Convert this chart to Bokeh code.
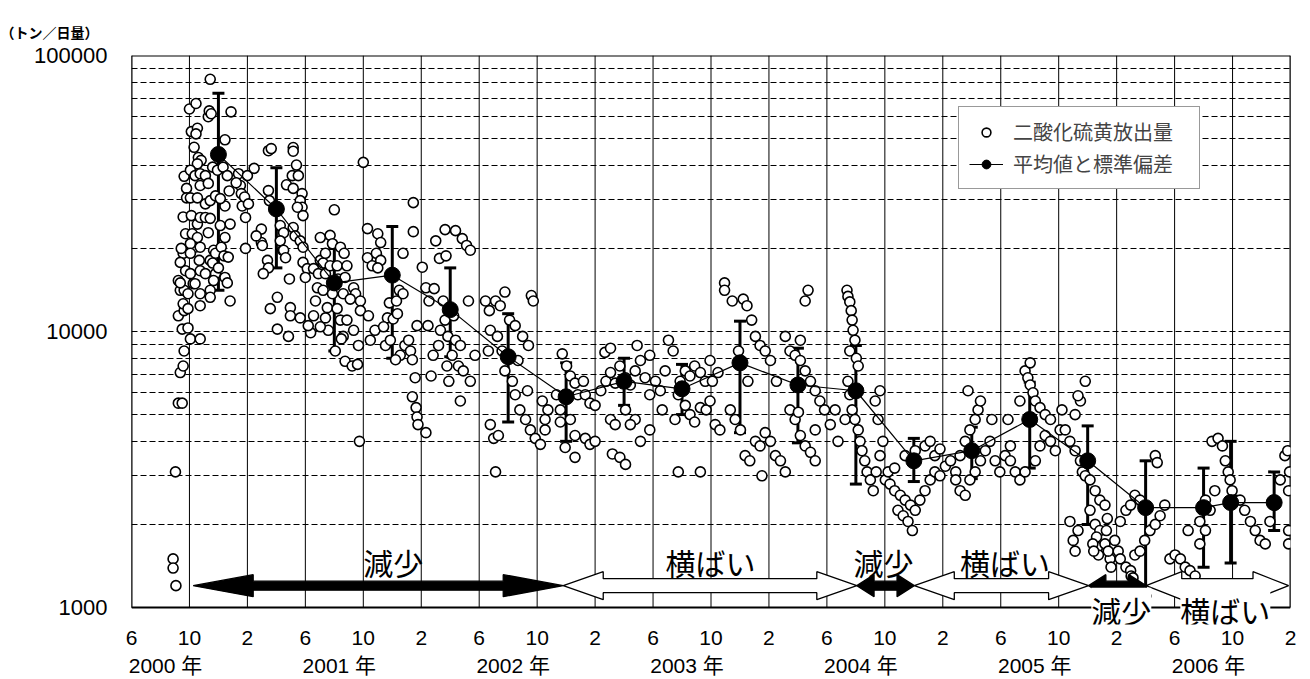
import math
import pandas as pd
from bokeh.plotting import figure
from bokeh.models import (ColumnDataSource, FixedTicker, Whisker, TeeHead, Label, LinearAxis,
                          Legend, LegendItem, NumeralTickFormatter, Range1d, Title)
from bokeh.embed import file_html
from bokeh.resources import INLINE

# ---------------- data ----------------
tick_months = ["2000-06-01", "2000-10-01", "2001-02-01", "2001-06-01", "2001-10-01", "2002-02-01",
               "2002-06-01", "2002-10-01", "2003-02-01", "2003-06-01", "2003-10-01", "2004-02-01",
               "2004-06-01", "2004-10-01", "2005-02-01", "2005-06-01", "2005-10-01", "2006-02-01",
               "2006-06-01", "2006-10-01", "2007-02-01"]
year_label_months = ["2000-06-01", "2001-06-01", "2002-06-01", "2003-06-01", "2004-06-01",
                     "2005-06-01", "2006-06-01"]
year_labels = ["2000 年", "2001 年", "2002 年", "2003 年", "2004 年", "2005 年", "2006 年"]
y_ticks = [1000, 10000, 100000]

so2_2000 = [
    ("2000-08-28", 1500), ("2000-08-28", 1390), ("2000-09-03", 1200), ("2000-09-02", 3100),
    ("2000-09-08", 5500), ("2000-09-16", 5500), ("2000-09-12", 7100), ("2000-09-18", 7500),
    ("2000-09-20", 8500), ("2000-09-16", 10200), ("2000-09-28", 10300), ("2000-09-08", 11400),
    ("2000-09-20", 11900), ("2000-09-18", 12600), ("2000-09-12", 14100), ("2000-09-08", 15300),
    ("2000-09-20", 14100), ("2000-09-23", 16600), ("2000-09-12", 15000), ("2000-09-18", 19200),
    ("2000-09-23", 22600), ("2000-09-20", 36500), ("2000-09-25", 33000), ("2000-09-25", 30500),
    ("2000-09-18", 26000), ("2000-09-14", 20000), ("2000-09-12", 17800),
    ("2000-10-01", 64000), ("2000-10-05", 53000), ("2000-10-11", 46500), ("2000-10-15", 67000),
    ("2000-10-18", 54500), ("2000-10-15", 52000), ("2000-10-20", 42700), ("2000-10-26", 41700),
    ("2000-10-18", 40500), ("2000-10-03", 38400), ("2000-10-13", 36700), ("2000-10-24", 37300),
    ("2000-10-03", 30500), ("2000-10-18", 30500), ("2000-10-24", 33800), ("2000-10-05", 26300),
    ("2000-10-18", 24500), ("2000-10-24", 25900), ("2000-10-07", 22600), ("2000-10-18", 21900),
    ("2000-10-13", 20200), ("2000-10-03", 20800), ("2000-10-24", 20200), ("2000-10-03", 19200),
    ("2000-10-22", 18100), ("2000-10-03", 16200), ("2000-10-24", 16600), ("2000-10-09", 14900),
    ("2000-10-13", 14900), ("2000-10-24", 13700), ("2000-09-28", 13700), ("2000-10-24", 12400),
    ("2000-10-03", 9400), ("2000-10-24", 9400), ("2000-09-28", 12100),
    ("2000-11-10", 60000), ("2000-11-12", 63000), ("2000-11-16", 61500), ("2000-11-14", 82000),
    ("2000-11-04", 36700), ("2000-11-19", 39400), ("2000-11-04", 29000), ("2000-11-14", 29800),
    ("2000-11-04", 25900), ("2000-11-14", 25700), ("2000-11-10", 22800), ("2000-11-14", 18100),
    ("2000-11-21", 19700), ("2000-11-25", 19200), ("2000-11-19", 17700), ("2000-11-04", 16200),
    ("2000-11-25", 16200), ("2000-11-14", 14100), ("2000-11-14", 13300), ("2000-11-21", 15300),
    ("2000-11-10", 34400), ("2000-11-25", 31000),
    ("2000-11-29", 38400), ("2000-12-11", 39400), ("2000-12-15", 49500), ("2000-12-20", 36700),
    ("2000-12-15", 28500), ("2000-12-05", 30300), ("2000-12-05", 24200), ("2000-12-15", 21900),
    ("2000-12-07", 20200), ("2000-12-13", 18800), ("2000-12-01", 17000), ("2000-12-15", 15700),
    ("2000-12-20", 15000), ("2000-12-26", 12900), ("2000-12-26", 24500), ("2000-12-22", 18600),
    ("2000-12-28", 62500), ("2000-12-24", 32300),
]
so2_2001 = [
    ("2001-01-13", 37300), ("2001-01-17", 33800), ("2001-01-19", 31600), ("2001-01-21", 28500),
    ("2001-01-26", 30700), ("2001-01-08", 34600),
    ("2001-02-01", 36700), ("2001-02-14", 39000), ("2001-02-03", 29000), ("2001-01-28", 25900),
    ("2001-01-28", 20000), ("2001-02-28", 23500), ("2001-02-28", 21000), ("2001-02-18", 22200),
    ("2001-03-15", 45200), ("2001-03-21", 46000), ("2001-03-15", 32400), ("2001-03-17", 29800),
    ("2001-03-13", 18100), ("2001-03-15", 17000), ("2001-03-04", 16200), ("2001-03-19", 12100),
    ("2001-03-02", 20500),
    ("2001-04-03", 13300), ("2001-04-09", 24200), ("2001-04-16", 22800), ("2001-04-09", 21300),
    ("2001-04-14", 19700), ("2001-04-16", 19700), ("2001-04-20", 18500), ("2001-04-03", 10200),
    ("2001-04-22", 34000), ("2001-04-28", 15500), ("2001-04-30", 12200), ("2001-04-30", 11400),
    ("2001-04-26", 9600),
    ("2001-05-06", 46400), ("2001-05-06", 45000), ("2001-05-13", 40100), ("2001-05-04", 36700),
    ("2001-05-06", 33000), ("2001-05-06", 23800), ("2001-05-10", 22200), ("2001-05-21", 21300),
    ("2001-05-27", 20200), ("2001-05-25", 31600), ("2001-05-21", 29800), ("2001-05-25", 28200),
    ("2001-05-27", 26300), ("2001-05-15", 28200), ("2001-05-27", 17800), ("2001-05-21", 11200),
    ("2001-05-17", 36700),
    ("2001-06-05", 16900), ("2001-06-01", 15700), ("2001-06-18", 16900), ("2001-06-28", 16200),
    ("2001-06-22", 12900), ("2001-06-18", 11400), ("2001-06-26", 14400), ("2001-06-12", 9900),
    ("2001-06-07", 10500),
    ("2001-07-02", 21900), ("2001-07-02", 18100), ("2001-07-08", 17700), ("2001-07-13", 19200),
    ("2001-07-23", 22300), ("2001-07-28", 20800), ("2001-07-13", 16200), ("2001-07-08", 14100),
    ("2001-07-17", 12200), ("2001-07-13", 11200), ("2001-07-19", 10100), ("2001-07-28", 13700),
    ("2001-07-23", 17300), ("2001-07-02", 10400),
    ("2001-08-01", 27600), ("2001-08-14", 20200), ("2001-08-22", 19200), ("2001-08-07", 17300),
    ("2001-08-28", 17300), ("2001-08-09", 15500), ("2001-08-24", 15700), ("2001-08-20", 13700),
    ("2001-08-07", 12100), ("2001-08-14", 11000), ("2001-08-28", 11000), ("2001-08-20", 9600),
    ("2001-08-03", 8500), ("2001-08-16", 9400), ("2001-08-24", 7800),
    ("2001-09-11", 14400), ("2001-09-15", 13700), ("2001-09-25", 12900), ("2001-09-04", 13100),
    ("2001-09-25", 11900), ("2001-09-11", 10100), ("2001-09-21", 8900), ("2001-09-08", 7500),
    ("2001-09-19", 7600), ("2001-09-23", 4000),
    ("2001-10-01", 41000), ("2001-10-10", 23600), ("2001-10-10", 18500), ("2001-10-29", 19200),
    ("2001-11-01", 22600), ("2001-10-20", 17300), ("2001-10-26", 10100), ("2001-10-16", 9300),
    ("2001-10-12", 11400),
    ("2001-11-07", 21000), ("2001-11-07", 18100), ("2001-11-01", 17000), ("2001-11-21", 11200),
    ("2001-11-13", 10400), ("2001-11-25", 12700), ("2001-11-17", 8900), ("2001-11-27", 9300),
    ("2001-12-03", 11100), ("2001-12-10", 12900), ("2001-12-16", 14100), ("2001-12-24", 13700),
    ("2001-12-24", 19200), ("2001-12-12", 11600), ("2001-12-18", 8200), ("2001-12-28", 8900),
    ("2001-12-08", 7900),
]
so2_2002 = [
    ("2002-01-15", 29300), ("2002-01-15", 23000), ("2002-01-23", 10500), ("2002-01-09", 8500),
    ("2002-01-13", 7900), ("2002-01-19", 6800), ("2002-01-13", 5800), ("2002-01-21", 5300),
    ("2002-01-23", 4900), ("2002-01-25", 4600), ("2002-01-05", 9300),
    ("2002-02-03", 17100), ("2002-02-10", 14400), ("2002-02-26", 14300), ("2002-02-14", 10500),
    ("2002-03-01", 21300), ("2002-02-10", 4300), ("2002-02-16", 12900), ("2002-02-24", 8200),
    ("2002-02-20", 6900),
    ("2002-03-09", 18400), ("2002-03-23", 18800), ("2002-03-21", 23400), ("2002-03-11", 10100),
    ("2002-03-21", 11000), ("2002-03-27", 9600), ("2002-03-17", 12900), ("2002-03-25", 7500),
    ("2002-03-07", 8900),
    ("2002-04-12", 9300), ("2002-04-22", 8900), ("2002-04-05", 8200), ("2002-04-18", 7500),
    ("2002-04-28", 7200), ("2002-03-29", 6600), ("2002-04-12", 23200), ("2002-04-26", 21700),
    ("2002-04-08", 11400), ("2002-04-22", 5600),
    ("2002-05-05", 20500), ("2002-05-13", 19700), ("2002-05-09", 12900), ("2002-05-23", 8200),
    ("2002-05-13", 6600),
    ("2002-06-22", 11900), ("2002-06-14", 12900), ("2002-06-24", 10100), ("2002-06-24", 4600),
    ("2002-07-01", 4100), ("2002-06-20", 8500),
    ("2002-07-05", 12900), ("2002-07-15", 12400), ("2002-07-25", 13900), ("2002-07-09", 9600),
    ("2002-07-05", 3100), ("2002-07-11", 4200), ("2002-07-19", 8500), ("2002-07-25", 7200),
    ("2002-08-04", 11000), ("2002-08-16", 10500), ("2002-08-16", 5900), ("2002-08-26", 5200),
    ("2002-08-10", 6600), ("2002-08-22", 7850),
    ("2002-09-01", 9600), ("2002-09-13", 8900), ("2002-09-19", 13500), ("2002-09-23", 12900),
    ("2002-09-07", 4800), ("2002-09-17", 4400), ("2002-09-27", 4100), ("2002-09-11", 6100),
    ("2002-10-08", 3900), ("2002-10-18", 4400), ("2002-10-18", 4800), ("2002-10-12", 5600),
    ("2002-10-24", 5200),
    ("2002-11-23", 8300), ("2002-11-19", 5200), ("2002-11-19", 4700), ("2002-11-29", 3800),
    ("2002-11-11", 5900),
    ("2002-12-02", 7500), ("2002-12-10", 6900), ("2002-12-20", 6500), ("2002-12-26", 5900),
    ("2002-12-10", 4800), ("2002-12-20", 4200), ("2002-12-20", 3500),
]
so2_2003 = [
    ("2003-01-11", 5900), ("2003-01-21", 5500), ("2003-01-11", 4100), ("2003-01-21", 3900),
    ("2003-01-07", 6600),
    ("2003-02-01", 5400), ("2003-02-01", 4000), ("2003-02-12", 6100), ("2003-02-22", 6600),
    ("2003-02-20", 8400),
    ("2003-03-03", 7100), ("2003-03-13", 6500), ("2003-03-23", 7500), ("2003-03-03", 4800),
    ("2003-03-13", 4600), ("2003-03-07", 3600), ("2003-03-23", 3500), ("2003-03-03", 8700),
    ("2003-04-04", 6800), ("2003-04-14", 6400), ("2003-04-24", 7200), ("2003-04-04", 5200),
    ("2003-04-24", 4800), ("2003-04-04", 3300), ("2003-04-14", 4600), ("2003-04-28", 8900),
    ("2003-05-05", 7850), ("2003-05-15", 6800), ("2003-05-25", 5900), ("2003-05-05", 4000),
    ("2003-05-25", 4400), ("2003-05-25", 8200),
    ("2003-06-06", 6600), ("2003-06-16", 6100), ("2003-06-20", 5200), ("2003-06-26", 7200),
    ("2003-07-03", 9300), ("2003-07-13", 8500), ("2003-07-28", 6600), ("2003-07-24", 5900),
    ("2003-07-24", 3100), ("2003-07-17", 4800),
    ("2003-08-08", 7200), ("2003-08-18", 6900), ("2003-08-28", 7500), ("2003-08-08", 5400),
    ("2003-08-18", 5000), ("2003-08-28", 4700),
    ("2003-09-09", 7100), ("2003-09-19", 6600), ("2003-09-29", 7850), ("2003-09-09", 5300),
    ("2003-09-21", 5200), ("2003-09-09", 3100),
    ("2003-10-04", 6600), ("2003-10-16", 7100), ("2003-09-29", 5600), ("2003-10-10", 4600),
    ("2003-10-20", 4400), ("2003-10-30", 15000), ("2003-10-30", 14100),
    ("2003-11-11", 5200), ("2003-11-21", 4800), ("2003-11-15", 12900), ("2003-11-28", 8500),
    ("2003-12-08", 13100), ("2003-12-16", 12400), ("2003-12-26", 11000), ("2003-12-02", 4400),
    ("2003-12-12", 3550), ("2003-12-22", 3400), ("2003-12-18", 6600),
]
so2_2004 = [
    ("2004-01-03", 9600), ("2004-01-13", 8900), ("2004-01-24", 8500), ("2004-01-03", 4000),
    ("2004-01-13", 3850), ("2004-01-24", 4300), ("2004-01-17", 3000),
    ("2004-02-04", 7850), ("2004-02-04", 4000), ("2004-02-14", 3550), ("2004-02-24", 3400),
    ("2004-02-16", 6600),
    ("2004-03-05", 3100), ("2004-03-05", 9600), ("2004-03-15", 8500), ("2004-03-26", 8200),
    ("2004-03-15", 5200), ("2004-03-26", 4800),
    ("2004-04-06", 9300), ("2004-04-16", 12900), ("2004-04-22", 14100), ("2004-04-06", 7850),
    ("2004-04-16", 7200), ("2004-04-27", 6600), ("2004-04-06", 4200), ("2004-04-16", 3850),
    ("2004-04-27", 3650), ("2004-04-02", 5100),
    ("2004-05-07", 6100), ("2004-05-17", 5600), ("2004-05-27", 5200), ("2004-05-07", 3400),
    ("2004-05-07", 4400),
    ("2004-06-08", 4600), ("2004-06-18", 5200), ("2004-06-24", 4000),
    ("2004-07-13", 14100), ("2004-07-15", 13400), ("2004-07-19", 12800), ("2004-07-22", 11900),
    ("2004-07-24", 11000), ("2004-07-26", 10100), ("2004-07-19", 8500), ("2004-07-15", 6600),
    ("2004-07-19", 5900), ("2004-07-24", 5200), ("2004-07-09", 4800),
    ("2004-07-30", 9300), ("2004-08-02", 8000), ("2004-08-06", 7500), ("2004-07-30", 4800),
    ("2004-08-06", 4400), ("2004-08-10", 4000), ("2004-08-14", 3700), ("2004-08-20", 3400),
    ("2004-08-25", 3100),
    ("2004-09-01", 2900), ("2004-09-07", 2650), ("2004-09-13", 3100), ("2004-09-21", 3550),
    ("2004-09-27", 4000), ("2004-09-17", 4800), ("2004-09-11", 5600), ("2004-09-21", 6100),
    ("2004-10-02", 2900), ("2004-10-12", 2800), ("2004-10-22", 2650), ("2004-10-08", 3100),
    ("2004-10-22", 3200), ("2004-10-29", 2250),
    ("2004-11-03", 2550), ("2004-11-13", 2450), ("2004-11-24", 2350), ("2004-11-13", 3550),
    ("2004-11-09", 2150), ("2004-11-19", 2050), ("2004-11-28", 1900),
    ("2004-12-04", 2250), ("2004-12-14", 2450), ("2004-12-25", 2650), ("2004-12-04", 3700),
    ("2004-12-25", 3850),
]
so2_2005 = [
    ("2005-01-05", 2900), ("2005-01-15", 3100), ("2005-01-26", 3000), ("2005-01-05", 4000),
    ("2005-01-15", 3550), ("2005-01-26", 3750),
    ("2005-02-06", 3250), ("2005-02-16", 3400), ("2005-02-26", 3100), ("2005-02-26", 2900),
    ("2005-03-07", 3550), ("2005-03-18", 4000), ("2005-03-24", 6100), ("2005-03-07", 2650),
    ("2005-03-18", 2550), ("2005-03-28", 2900), ("2005-03-28", 4400),
    ("2005-04-08", 4800), ("2005-04-14", 5200), ("2005-04-19", 5600), ("2005-04-08", 3100),
    ("2005-04-19", 3400), ("2005-04-29", 3700),
    ("2005-05-09", 4000), ("2005-05-20", 3400), ("2005-05-30", 3100), ("2005-05-13", 4800),
    ("2005-06-10", 3550), ("2005-06-21", 3850), ("2005-06-21", 3400), ("2005-06-16", 4800),
    ("2005-07-01", 3100), ("2005-07-11", 2900), ("2005-07-22", 3100), ("2005-07-22", 7200),
    ("2005-07-28", 6800), ("2005-07-11", 5600),
    ("2005-08-02", 7700), ("2005-08-02", 6400), ("2005-08-08", 6000), ("2005-08-13", 5600),
    ("2005-08-23", 5300), ("2005-08-13", 3400), ("2005-08-23", 3850),
    ("2005-09-03", 5000), ("2005-09-14", 4800), ("2005-09-03", 4200), ("2005-09-14", 4000),
    ("2005-09-24", 3700),
    ("2005-10-04", 4400), ("2005-10-08", 5200), ("2005-10-15", 4400), ("2005-10-25", 4000),
    ("2005-10-25", 2050),
    ("2005-11-05", 3700), ("2005-11-16", 3400), ("2005-11-20", 3100), ("2005-11-26", 3000),
    ("2005-11-05", 5000), ("2005-11-16", 5600), ("2005-11-26", 6600), ("2005-11-11", 5850),
    ("2005-11-01", 1750), ("2005-11-05", 1600), ("2005-11-11", 1900),
    ("2005-12-06", 2900), ("2005-12-17", 2650), ("2005-12-27", 2450), ("2005-12-06", 2250),
    ("2005-12-17", 2000), ("2005-12-27", 1900), ("2005-12-20", 1800), ("2005-12-22", 1650),
    ("2005-12-24", 1550), ("2005-12-12", 1700), ("2005-12-14", 1600),
]
so2_2006 = [
    ("2006-01-07", 2350), ("2006-01-07", 1700), ("2006-01-18", 1500), ("2006-01-28", 1750),
    ("2006-01-10", 1900), ("2006-01-12", 2100), ("2006-01-14", 1600), ("2006-01-20", 1400),
    ("2006-02-04", 1600), ("2006-02-08", 1500), ("2006-02-19", 1400), ("2006-02-08", 2050),
    ("2006-02-19", 2250),
    ("2006-02-28", 1360), ("2006-03-09", 1550), ("2006-03-20", 1600), ("2006-02-28", 2350),
    ("2006-03-09", 2550), ("2006-03-20", 2450), ("2006-03-01", 1300), ("2006-03-05", 1280),
    ("2006-03-30", 1750), ("2006-04-10", 1900), ("2006-04-21", 2000), ("2006-04-21", 3550),
    ("2006-04-25", 3350),
    ("2006-05-01", 2150), ("2006-05-11", 2350), ("2006-05-22", 1500),
    ("2006-06-02", 1550), ("2006-06-13", 1500), ("2006-06-23", 1400), ("2006-06-29", 1900),
    ("2006-07-03", 1360), ("2006-07-14", 1300), ("2006-07-24", 1700), ("2006-07-24", 2050),
    ("2006-08-05", 1900), ("2006-08-15", 2250), ("2006-08-25", 2650), ("2006-08-19", 4000),
    ("2006-08-05", 2450),
    ("2006-09-01", 4100), ("2006-09-10", 3850), ("2006-09-16", 3400), ("2006-09-22", 3100),
    ("2006-09-26", 2900),
    ("2006-09-30", 2650), ("2006-10-07", 2450), ("2006-10-17", 2450), ("2006-10-27", 2250),
    ("2006-11-08", 2050), ("2006-11-18", 1900), ("2006-11-28", 1750),
    ("2006-12-09", 1700), ("2006-12-19", 2050), ("2006-12-29", 2350),
    ("2007-01-10", 2900), ("2007-01-20", 3550), ("2007-01-26", 3700), ("2007-01-30", 3100),
    ("2007-01-28", 2650), ("2007-01-28", 1900), ("2007-01-28", 1700),
]

mean_dates = ["2000-12-01", "2001-04-01", "2001-08-01", "2001-12-01", "2002-04-01", "2002-08-01",
              "2002-12-01", "2003-04-01", "2003-08-01", "2003-12-01", "2004-04-01", "2004-08-01",
              "2004-12-01", "2005-04-01", "2005-08-01", "2005-12-01", "2006-04-01", "2006-08-01",
              "2006-09-27", "2006-12-28"]
mean_tons = [43800, 27800, 15000, 16000, 12000, 8100, 5800, 6600, 6200, 7700, 6400, 6100,
             3400, 3700, 4800, 3400, 2300, 2300, 2400, 2400]
sd_upper = [73000, 39200, 20000, 24000, 17000, 11600, 7700, 8000, 7600, 10900, 8700, 8900,
            4100, 4500, 6550, 4550, 3400, 3200, 4000, 3100]
sd_lower = [14100, 17000, 8500, 8000, 8100, 4700, 4000, 5400, 5000, 4300, 3950, 2800,
            2860, 2930, 3200, 2000, 1100, 1400, 1450, 1900]

trend_start = ["2000-10-09", "2002-11-25", "2004-08-03", "2004-12-02", "2005-12-03", "2006-04-02"]
trend_end = ["2002-11-25", "2004-08-03", "2004-12-02", "2005-12-03", "2006-04-02", "2007-01-28"]
trend_label = ["減少", "横ばい", "減少", "横ばい", "減少", "横ばい"]
trend_kind = ["down", "flat", "down", "flat", "down", "flat"]
trend_level = 1200

# ---------------- layout / style ----------------
FRAME_W, PLOT_H = 1159, 552       # PLOT_H: pixel height of 1000..100000
PAD_BELOW = 17                    # extra frame room below 1000 for the lower trend labels
LEFT, TOP = 131, 55
X0, X1 = 5, 85                    # months since Jan 2000 (Jun 2000 .. Feb 2007)
Y_BASE, Y1 = 1000, 100000
px_y = PLOT_H / (math.log10(Y1) - math.log10(Y_BASE))
Y0 = Y_BASE * 10 ** (-PAD_BELOW / px_y)
px_x = FRAME_W / (X1 - X0)
CJK = "Noto Sans CJK JP"
NUM = "'Liberation Sans', 'Noto Sans CJK JP'"


def mi(s):
    d = pd.Timestamp(s)
    return (d.year - 2000) * 12 + (d.month - 1) + (d.day - 1) / d.days_in_month


p = figure(frame_width=FRAME_W, frame_height=PLOT_H + PAD_BELOW, output_backend="svg",
           toolbar_location=None, y_axis_type="log", x_range=Range1d(X0, X1),
           y_range=Range1d(Y0, Y1), min_border_left=LEFT, min_border_top=TOP,
           min_border_right=1310 - LEFT - FRAME_W, min_border_bottom=0)
p.background_fill_color = "white"
p.border_fill_color = "white"
p.outline_line_color = None
p.title = Title(text="（トン／日量）", align="left", vertical_align="bottom", offset=-131,
                standoff=28, text_font=CJK, text_font_size="14px", text_font_style="bold",
                text_color="black")

xt = [mi(s) for s in tick_months]
p.xaxis.ticker = FixedTicker(ticks=xt)
p.xaxis.major_label_overrides = {t: str(pd.Timestamp(s).month) for t, s in zip(xt, tick_months)}
p.xaxis.axis_line_color = None
p.xaxis.major_tick_line_color = None
p.xaxis.minor_tick_line_color = None
p.xaxis.major_label_standoff = 0
p.xaxis.major_label_text_font = NUM
p.xaxis.major_label_text_font_size = "21px"
p.xaxis.major_label_text_color = "black"

yx = [mi(m) + 34 / px_x for m in year_label_months]
year_axis = LinearAxis(ticker=FixedTicker(ticks=yx),
                       major_label_overrides={t: s for t, s in zip(yx, year_labels)},
                       axis_line_color=None, major_tick_line_color=None,
                       minor_tick_line_color=None, major_label_standoff=0,
                       major_label_text_font=NUM, major_label_text_font_size="21px",
                       major_label_text_color="black")
p.add_layout(year_axis, "below")

minor = [m * d for d in (1000, 10000) for m in range(2, 10)]
p.yaxis.ticker = FixedTicker(ticks=y_ticks, minor_ticks=minor)
p.yaxis.formatter = NumeralTickFormatter(format="0")
p.yaxis.axis_line_color = None
p.yaxis.major_tick_line_color = None
p.yaxis.minor_tick_line_color = None
p.yaxis.major_label_standoff = 18
p.yaxis.major_label_text_font = NUM
p.yaxis.major_label_text_font_size = "22px"
p.yaxis.major_label_text_color = "black"

p.xgrid.grid_line_color = None
p.ygrid.grid_line_color = "black"
p.ygrid.grid_line_dash = "6 3"
p.ygrid.grid_line_width = 1
p.ygrid.minor_grid_line_color = "black"
p.ygrid.minor_grid_line_dash = "6 3"
p.ygrid.minor_grid_line_width = 1

# vertical grid lines and plot box (from 1000 up to 100000)
p.segment(x0=xt, y0=[Y_BASE] * len(xt), x1=xt, y1=[Y1] * len(xt),
          line_color="black", line_width=1)
p.segment(x0=[X0, X0, X0, X1], y0=[Y_BASE, Y1, Y_BASE, Y_BASE],
          x1=[X1, X1, X0, X1], y1=[Y_BASE, Y1, Y1, Y1], line_color="black", line_width=2)

# ---------------- scatter ----------------
obs = so2_2000 + so2_2001 + so2_2002 + so2_2003 + so2_2004 + so2_2005 + so2_2006
src = ColumnDataSource(dict(x=[mi(d) for d, _ in obs], y=[v for _, v in obs]))
r_obs = p.scatter("x", "y", source=src, marker="circle", size=10, fill_color="white",
                  line_color="black", line_width=1.6)

# ---------------- trend arrows ----------------
xs, ys, fills = [], [], []
for s, e, k in zip(trend_start, trend_end, trend_kind):
    t0, t1 = mi(s), mi(e)
    L = (t1 - t0) * px_x
    if k == "down":
        sh, hh, hl = 4.5, 11, min(60, L * 0.3)
        fc = "black"
    else:
        sh, hh, hl = 7, 14, min(40, L * 0.25)
        fc = "white"
    pts = [(0, 0), (hl, hh), (hl, sh), (L - hl, sh), (L - hl, hh), (L, 0),
           (L - hl, -hh), (L - hl, -sh), (hl, -sh), (hl, -hh)]
    xs.append([t0 + a / px_x for a, _ in pts])
    ys.append([trend_level * 10 ** (b / px_y) for _, b in pts])
    fills.append(fc)
p.patches(xs, ys, fill_color=fills, line_color="black", line_width=1.3)

label_pos = ["2001-12-03", "2003-09-30", "2004-09-28", "2005-06-10", "2006-02-10", "2006-09-16"]
label_above = [True, True, True, True, False, False]
for txt, pos, above in zip(trend_label, label_pos, label_above):
    p.add_layout(Label(x=mi(pos), y=trend_level, y_offset=(24 if above else -24),
                       text=txt, text_align="center", text_baseline="middle",
                       text_font=CJK, text_font_size="30px", text_color="black",
                       background_fill_color=None if above else "white"))

# ---------------- means with SD ----------------
mx = [mi(d) for d in mean_dates]
msrc = ColumnDataSource(dict(x=mx, y=mean_tons, up=sd_upper, lo=sd_lower))
r_line = p.line("x", "y", source=msrc, line_color="black", line_width=1.2)
p.add_layout(Whisker(base="x", upper="up", lower="lo", source=msrc, line_width=3,
                     line_color="black",
                     upper_head=TeeHead(size=12, line_width=3, line_color="black"),
                     lower_head=TeeHead(size=12, line_width=3, line_color="black")))
r_mean = p.scatter("x", "y", source=msrc, marker="circle", size=16, fill_color="black",
                   line_color="black")

# ---------------- legend ----------------
legend = Legend(items=[LegendItem(label="二酸化硫黄放出量", renderers=[r_obs]),
                       LegendItem(label="平均値と標準偏差", renderers=[r_line, r_mean])],
                location=(958 - LEFT, 607 + PAD_BELOW - 189), label_text_font=CJK,
                label_text_font_size="20px", glyph_width=34, glyph_height=22,
                label_standoff=10, label_width=176, padding=10, spacing=3, margin=0,
                border_line_color="#333333", border_line_width=1,
                background_fill_color="white", background_fill_alpha=1)
p.add_layout(legend)

open("out.html", "w").write(file_html(p, INLINE))
